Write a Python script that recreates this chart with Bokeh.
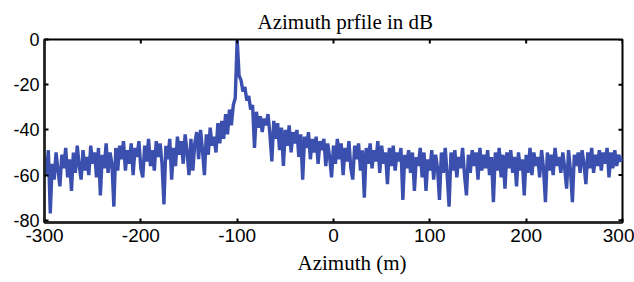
import numpy as np
from bokeh.plotting import figure
from bokeh.models import Range1d, Title, FixedTicker
from bokeh.embed import file_html
from bokeh.resources import INLINE

# Azimuth samples (m), every 2 m from -300 to 300
x_start, x_stop, x_step = -300, 300, 2
azimuth = list(np.arange(x_start, x_stop + 1, x_step))

# Profile level (dB)
level_db = [
    -52, -60, -49, -77, -55, -62, -50, -58, -65, -51,
    -57, -48, -61, -53, -67, -50, -59, -47, -56, -62,
    -49, -58, -52, -60, -47, -55, -50, -61, -48, -69,
    -51, -57, -46, -59, -50, -55, -74, -48, -58, -47,
    -53, -45, -58, -49, -55, -46, -60, -48, -52, -45,
    -57, -61, -47, -54, -44, -56, -49, -58, -45, -52,
    -46, -55, -73, -47, -53, -44, -62, -48, -56, -43,
    -51, -45, -55, -42, -50, -60, -44, -58, -46, -41,
    -53, -40, -49, -60, -42, -51, -39, -47, -43, -50,
    -37, -46, -36, -44, -33, -42, -31, -38, -29, -26,
    0, -16, -18, -23, -21, -27, -25, -31, -29, -48,
    -32, -39, -34, -41, -35, -38, -33, -42, -54, -36,
    -44, -37, -49, -39, -56, -40, -47, -38, -50, -41,
    -46, -40, -52, -42, -62, -43, -48, -41, -53, -44,
    -50, -43, -55, -45, -49, -44, -56, -46, -52, -61,
    -47, -55, -44, -53, -46, -60, -48, -54, -45, -57,
    -62, -47, -53, -46, -58, -49, -70, -48, -55, -46,
    -57, -49, -54, -45, -59, -47, -55, -50, -64, -48,
    -56, -47, -58, -50, -54, -48, -71, -51, -57, -49,
    -59, -50, -67, -52, -56, -48, -61, -50, -67, -53,
    -58, -49, -62, -51, -57, -71, -50, -59, -48, -60,
    -74, -50, -58, -49, -61, -52, -57, -48, -60, -69,
    -51, -59, -49, -56, -50, -62, -48, -58, -51, -57,
    -49, -60, -52, -72, -50, -58, -48, -61, -51, -66,
    -50, -57, -49, -59, -52, -65, -50, -58, -53, -69,
    -51, -59, -48, -60, -50, -56, -52, -61, -49, -57,
    -72, -50, -58, -51, -60, -48, -56, -52, -59, -50,
    -57, -66, -49, -58, -72, -51, -56, -50, -59, -49,
    -55, -64, -50, -57, -48, -59, -51, -56, -49, -58,
    -50, -55, -48, -61, -50, -57, -49, -56, -51, -54, -52,
]

x_ticks = [-300, -200, -100, 0, 100, 200, 300]
y_ticks = [-80, -60, -40, -20, 0]
title_text = "Azimuth prfile in dB"
xlabel_text = "Azimuth (m)"

x_min, x_max = -300, 300
y_min, y_max = -81, 0

p = figure(width=634, height=282, output_backend="svg", toolbar_location=None,
           x_range=Range1d(x_min, x_max), y_range=Range1d(y_min, y_max))
p.min_border_left = 44
p.min_border_right = 12
p.min_border_top = 39
p.min_border_bottom = 60
p.background_fill_color = "white"
p.border_fill_color = "white"
p.grid.visible = False
p.outline_line_color = "black"
p.outline_line_width = 2

p.line(azimuth, level_db, line_color="#3b4fae", line_width=3.4)

# box ticks on top and right edges (MATLAB-style), half of each dash is clipped
p.scatter(x_ticks, [y_max] * len(x_ticks), marker="dash", angle=np.pi / 2,
          size=8, line_color="black", line_width=2)
p.scatter([x_max] * len(y_ticks), y_ticks, marker="dash",
          size=8, line_color="black", line_width=2)

def style_axis(ax):
    ax.axis_line_color = "#222222"
    ax.axis_line_width = 2.5
    ax.major_tick_in = 4
    ax.major_tick_out = 0
    ax.major_tick_line_color = "black"
    ax.major_tick_line_width = 2
    ax.minor_tick_line_color = None
    ax.major_label_text_font = "Liberation Sans"
    ax.major_label_text_color = "black"

xa = p.xaxis[0]
xa.ticker = FixedTicker(ticks=x_ticks)
xa.major_label_overrides = {t: str(t) for t in x_ticks}
style_axis(xa)
xa.major_label_text_font_size = "19px"
xa.major_label_standoff = 6

ya = p.yaxis[0]
ya.ticker = FixedTicker(ticks=y_ticks)
ya.major_label_overrides = {t: str(t) for t in y_ticks}
style_axis(ya)
ya.major_label_text_font_size = "18px"
ya.major_label_standoff = 5

t = Title(text=title_text, align="left", offset=213, text_font="Liberation Serif",
          text_font_size="21px", text_font_style="normal", text_color="black", standoff=11)
p.add_layout(t, "above")

xl = Title(text=xlabel_text, align="left", offset=253, text_font="Liberation Serif",
           text_font_size="21px", text_font_style="normal", text_color="black", standoff=8)
p.add_layout(xl, "below")

open("out.html", "w").write(file_html(p, INLINE))
